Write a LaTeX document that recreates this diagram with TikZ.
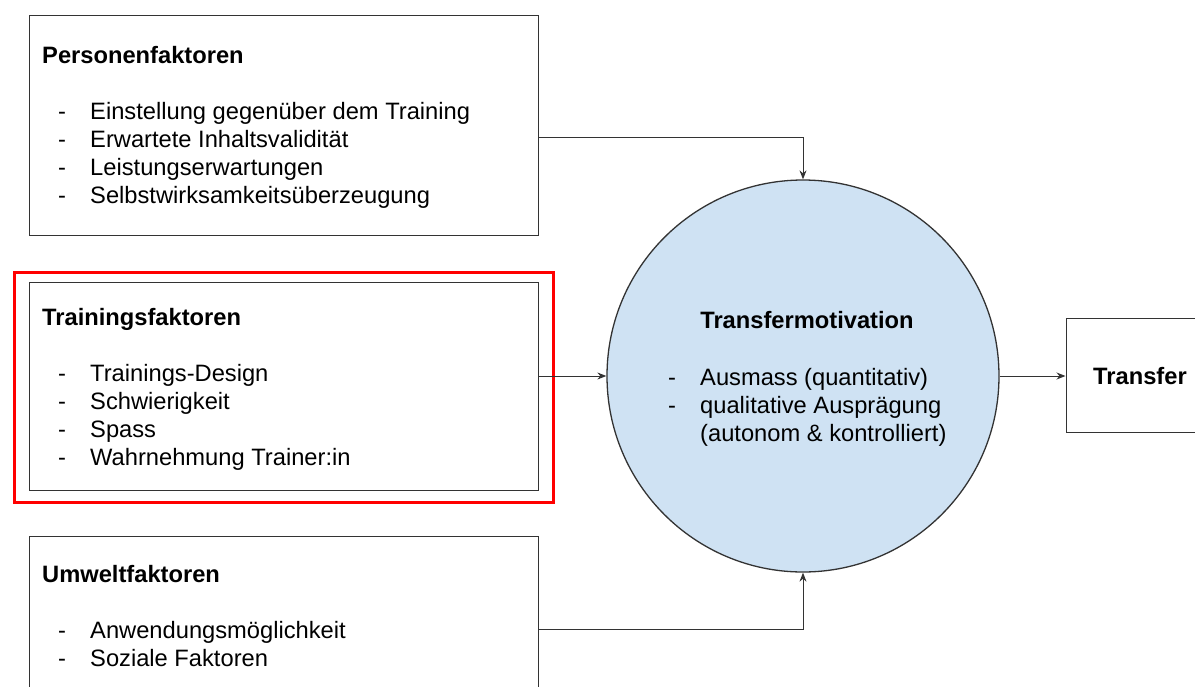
\documentclass[tikz,border=0pt]{standalone}
\usepackage{fontspec}
\setmainfont{Liberation Sans}
\usetikzlibrary{arrows.meta}
\definecolor{circfill}{HTML}{CFE2F3}
\definecolor{linegray}{HTML}{333333}
\begin{document}
\begin{tikzpicture}[x=1pt,y=-1pt,
  box/.style={draw=linegray,line width=1pt,inner sep=0pt},
  txt/.style={anchor=west,inner sep=0pt,text height=19pt,text depth=3pt,font=\fontsize{23.7}{28}\selectfont},
  ttl/.style={txt,font=\fontsize{23.7}{28}\selectfont\bfseries},
  conn/.style={draw=linegray,line width=1pt,-{Stealth[length=9pt,width=7pt]}}]
\useasboundingbox (0,0) rectangle (1195,686);
% boxes
\node[box,minimum width=509pt,minimum height=220pt] (pf) at (283.5,125) {};
\node[box,minimum width=509pt,minimum height=208pt] (tf) at (283.5,386) {};
\node[box,minimum width=509pt,minimum height=184pt] (uf) at (283.5,628) {};
\node[draw=red,line width=3pt,minimum width=539pt,minimum height=230pt,inner sep=0pt] (hl) at (284,387.5) {};
\node[draw=linegray,line width=1.3pt,fill=circfill,circle,minimum size=392pt,inner sep=0pt] (tm) at (803,376) {};
\node[box,minimum width=134pt,minimum height=114pt] (tr) at (1133,375) {};
% texts box 1
\node[ttl] (pft) at (42,55) {Personenfaktoren};
\node[txt] (pfd1) at (58,111) {-}; \node[txt] (pf1) at (90,111) {Einstellung gegenüber dem Training};
\node[txt] (pfd2) at (58,139) {-}; \node[txt] (pf2) at (90,139) {Erwartete Inhaltsvalidität};
\node[txt] (pfd3) at (58,167) {-}; \node[txt] (pf3) at (90,167) {Leistungserwartungen};
\node[txt] (pfd4) at (58,195) {-}; \node[txt] (pf4) at (90,195) {Selbstwirksamkeitsüberzeugung};
% texts box 2
\node[ttl] (tft) at (42,317) {Trainingsfaktoren};
\node[txt] (tfd1) at (58,373) {-}; \node[txt] (tf1) at (90,373) {Trainings-Design};
\node[txt] (tfd2) at (58,401) {-}; \node[txt] (tf2) at (90,401) {Schwierigkeit};
\node[txt] (tfd3) at (58,429) {-}; \node[txt] (tf3) at (90,429) {Spass};
\node[txt] (tfd4) at (58,457) {-}; \node[txt] (tf4) at (90,457) {Wahrnehmung Trainer:in};
% texts box 3
\node[ttl] (uft) at (42,574) {Umweltfaktoren};
\node[txt] (ufd1) at (58,630) {-}; \node[txt] (uf1) at (90,630) {Anwendungsmöglichkeit};
\node[txt] (ufd2) at (58,658) {-}; \node[txt] (uf2) at (90,658) {Soziale Faktoren};
% circle texts
\node[ttl,anchor=center] (tmt) at (807,320) {Transfermotivation};
\node[txt] (tmd1) at (668,377) {-}; \node[txt] (tm1) at (700,377) {Ausmass (quantitativ)};
\node[txt] (tmd2) at (668,405) {-}; \node[txt] (tm2) at (700,405) {qualitative Ausprägung};
\node[txt] (tm3) at (700,433) {(autonom \& kontrolliert)};
% transfer
\node[ttl] (trt) at (1093,376) {Transfer};
% connectors
\draw[conn] ([yshift=-12pt]pf.east) -| (tm.north);
\draw[conn] (tf.east |- tm.west) -- (tm.west);
\draw[conn] ([yshift=-1pt]uf.east) -| (tm.south);
\draw[conn] (tm.east) -- (tr.west |- tm.east);
\end{tikzpicture}
\end{document}
